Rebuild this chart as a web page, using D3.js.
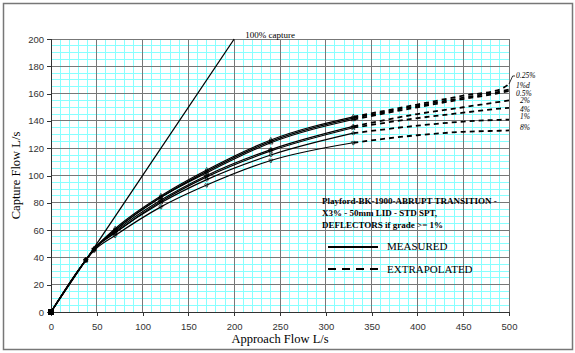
<!DOCTYPE html>
<html>
<head>
<meta charset="utf-8">
<script src="https://cdn.jsdelivr.net/npm/d3@7"></script>
<style>
  body { margin: 0; background: #fff; }
  svg { display: block; }
</style>
</head>
<body>
<svg class="chart"></svg>
<script>
var width = 575;
var height = 353;

// tick labels
var xTicks = [0, 50, 100, 150, 200, 250, 300, 350, 400, 450, 500];
var yTicks = [0, 20, 40, 60, 80, 100, 120, 140, 160, 180, 200];

// series names (grade)
var grades = ['0.25%', '1%d', '0.5%', '2%', '4%', '1%', '8%'];

// measured approach flows and capture flows
var measuredX = [0, 38, 47, 70, 120, 170, 240, 330];
var measured025 = [0, 38, 46, 61, 85, 104, 126, 143];
var measured1d = [0, 38, 46, 60, 84, 103, 125, 142];
var measured05 = [0, 38, 46, 60, 84, 102, 124, 141];
var measured2 = [0, 38, 46, 59, 82, 100, 119, 136];
var measured4 = [0, 38, 46, 58, 81, 99, 118, 135];
var measured1 = [0, 38, 46, 58, 80, 97, 115, 131];
var measured8 = [0, 38, 45, 56, 77, 93, 111, 124];

// extrapolated
var extrapX = [330, 400, 450, 490, 500];
var extrap025 = [143, 152, 158.5, 163, 167];
var extrap1d = [142, 151, 157, 161.5, 163];
var extrap05 = [141, 150, 156, 160.5, 162];
var extrap2 = [136, 145, 150, 154, 155];
var extrap4 = [135, 142, 146, 149, 149.5];
var extrap1 = [131, 136.5, 139.5, 140.8, 141];
var extrap8 = [124, 129.5, 132, 132.8, 133];

// where each grade label sits (in chart units, capture flow)
var labelAt = [172.9, 166.3, 160.4, 154.6, 148.7, 142.9, 134.8];

// 100% capture line
var captureX = [0, 200];
var captureY = [0, 200];

var measuredY = [measured025, measured1d, measured05, measured2, measured4, measured1, measured8];
var extrapY = [extrap025, extrap1d, extrap05, extrap2, extrap4, extrap1, extrap8];

var chart = d3.select('.chart')
  .attr('width', width)
  .attr('height', height);

var x = d3.scaleLinear().domain([0, 500]).range([51, 509]);
var y = d3.scaleLinear().domain([0, 200]).range([312, 39]);

// outer frame
chart.append('rect')
  .attr('x', 3.5).attr('y', 3.5)
  .attr('width', 569).attr('height', 346)
  .attr('fill', '#fff')
  .attr('stroke', '#777')
  .attr('stroke-width', 1.5);

// minor grid
var grid = chart.append('g').attr('shape-rendering', 'crispEdges');
grid.selectAll('.vminor')
  .data(d3.range(0, 501, 10))
  .join('line')
    .attr('x1', function(d){ return x(d); })
    .attr('x2', function(d){ return x(d); })
    .attr('y1', y(0)).attr('y2', y(200))
    .attr('stroke', '#88ffff');
grid.selectAll('.hminor')
  .data(d3.range(0, 201, 5))
  .join('line')
    .attr('y1', function(d){ return y(d); })
    .attr('y2', function(d){ return y(d); })
    .attr('x1', x(0)).attr('x2', x(500))
    .attr('stroke', '#88ffff');

// major grid
grid.selectAll('.vmajor')
  .data(xTicks)
  .join('line')
    .attr('x1', function(d){ return x(d); })
    .attr('x2', function(d){ return x(d); })
    .attr('y1', y(0)).attr('y2', y(200))
    .attr('stroke', '#777');
grid.selectAll('.hmajor')
  .data(yTicks)
  .join('line')
    .attr('y1', function(d){ return y(d); })
    .attr('y2', function(d){ return y(d); })
    .attr('x1', x(0)).attr('x2', x(500))
    .attr('stroke', '#777');

// axes
var xAxis = chart.append('g')
  .attr('transform', 'translate(0,' + y(0) + ')')
  .call(d3.axisBottom(x).tickValues(xTicks).tickSize(4).tickPadding(7));
var yAxis = chart.append('g')
  .attr('transform', 'translate(' + x(0) + ',0)')
  .call(d3.axisLeft(y).tickValues(yTicks).tickSize(4).tickPadding(3));
[xAxis, yAxis].forEach(function(a){
  a.selectAll('path, line').attr('stroke', '#333').attr('shape-rendering', 'crispEdges');
  a.selectAll('text')
    .attr('fill', '#333')
    .style('font-family', 'Arial, "Liberation Sans", sans-serif')
    .style('font-size', '9.5px');
});

// axis titles
chart.append('text')
  .attr('x', (x(0) + x(500)) / 2)
  .attr('y', 343)
  .attr('text-anchor', 'middle')
  .style('font-family', '"Times New Roman", "Liberation Serif", serif')
  .style('font-size', '12.5px')
  .text('Approach Flow L/s');
chart.append('text')
  .attr('transform', 'translate(20,' + (y(0) + y(200)) / 2 + ') rotate(-90)')
  .attr('text-anchor', 'middle')
  .style('font-family', '"Times New Roman", "Liberation Serif", serif')
  .style('font-size', '12.5px')
  .text('Capture Flow L/s');

// 100% capture line
chart.append('line')
  .attr('x1', x(captureX[0])).attr('y1', y(captureY[0]))
  .attr('x2', x(captureX[1])).attr('y2', y(captureY[1]))
  .attr('stroke', '#000')
  .attr('stroke-width', 1.3);
chart.append('text')
  .attr('x', x(captureX[1]) + 11)
  .attr('y', y(captureY[1]) - 1)
  .style('font-family', '"Times New Roman", "Liberation Serif", serif')
  .style('font-size', '9px')
  .text('100% capture');

var line = d3.line()
  .x(function(d){ return x(d[0]); })
  .y(function(d){ return y(d[1]); })
  .curve(d3.curveMonotoneX);

var symbols = [d3.symbolDiamond, d3.symbolSquare, d3.symbolTriangle, d3.symbolCross,
               d3.symbolStar, d3.symbolCircle, d3.symbolWye];

var series = grades.map(function(g, i){
  return {
    name: g,
    measured: measuredX.map(function(v, j){ return [v, measuredY[i][j]]; }),
    extrap: extrapX.map(function(v, j){ return [v, extrapY[i][j]]; }),
    labelAt: labelAt[i],
    symbol: symbols[i]
  };
});

// extrapolated dashed lines
chart.append('g')
  .selectAll('path')
  .data(series)
  .join('path')
    .attr('d', function(d){ return line(d.extrap); })
    .attr('fill', 'none')
    .attr('stroke', '#000')
    .attr('stroke-width', 1.8)
    .attr('stroke-dasharray', '5,4');

// measured solid lines
chart.append('g')
  .selectAll('path')
  .data(series)
  .join('path')
    .attr('d', function(d){ return line(d.measured); })
    .attr('fill', 'none')
    .attr('stroke', '#000')
    .attr('stroke-width', 1.2);

// markers on measured points
chart.append('g')
  .selectAll('g')
  .data(series)
  .join('g')
  .selectAll('path')
  .data(function(d){ return d.measured.slice(1).map(function(p){ return {p: p, s: d.symbol}; }); })
  .join('path')
    .attr('transform', function(d){ return 'translate(' + x(d.p[0]) + ',' + y(d.p[1]) + ')'; })
    .attr('d', function(d){ return d3.symbol().type(d.s).size(8)(); })
    .attr('fill', 'none')
    .attr('stroke', '#000')
    .attr('stroke-width', 0.6);

// origin marker
chart.append('rect')
  .attr('x', x(0) - 3).attr('y', y(0) - 3)
  .attr('width', 6).attr('height', 6)
  .attr('fill', '#000');

// grade labels on the right
chart.append('g')
  .selectAll('text')
  .data(series)
  .join('text')
    .attr('x', function(d){ return (d.name.length > 2) ? 516 : 520; })
    .attr('y', function(d){ return y(d.labelAt) + 2.5; })
    .style('font-family', '"Times New Roman", "Liberation Serif", serif')
    .style('font-style', 'italic')
    .style('font-size', '7.5px')
    .text(function(d){ return d.name; });

// leader for 0.25%
var first = series[0];
var lastPt = first.extrap[first.extrap.length - 1];
chart.append('path')
  .attr('d', d3.line()([
    [x(lastPt[0]), y(lastPt[1])],
    [x(504), y(first.labelAt)],
    [515, y(first.labelAt)]
  ]))
  .attr('fill', 'none')
  .attr('stroke', '#000')
  .attr('stroke-width', 0.8);

// notes
var note = ['Playford-BK-1900-ABRUPT TRANSITION -', 'X3% - 50mm LID - STD SPT,', 'DEFLECTORS if grade >= 1%'];
chart.append('g')
  .selectAll('text')
  .data(note)
  .join('text')
    .attr('x', 322)
    .attr('y', function(d, i){ return 204 + i * 12.2; })
    .style('font-family', '"Times New Roman", "Liberation Serif", serif')
    .style('font-weight', 'bold')
    .style('font-size', '9px')
    .text(function(d){ return d; });

// legend
var legend = chart.append('g');
legend.append('line')
  .attr('x1', 328).attr('x2', 378)
  .attr('y1', 247).attr('y2', 247)
  .attr('stroke', '#000').attr('stroke-width', 2);
legend.append('line')
  .attr('x1', 328).attr('x2', 378)
  .attr('y1', 269).attr('y2', 269)
  .attr('stroke', '#000').attr('stroke-width', 2)
  .attr('stroke-dasharray', '8,6');
legend.append('text')
  .attr('x', 387).attr('y', 249.5)
  .style('font-family', '"Times New Roman", "Liberation Serif", serif')
  .style('font-size', '11px')
  .text('MEASURED');
legend.append('text')
  .attr('x', 387).attr('y', 273)
  .style('font-family', '"Times New Roman", "Liberation Serif", serif')
  .style('font-size', '11px')
  .text('EXTRAPOLATED');
</script>
</body>
</html>
